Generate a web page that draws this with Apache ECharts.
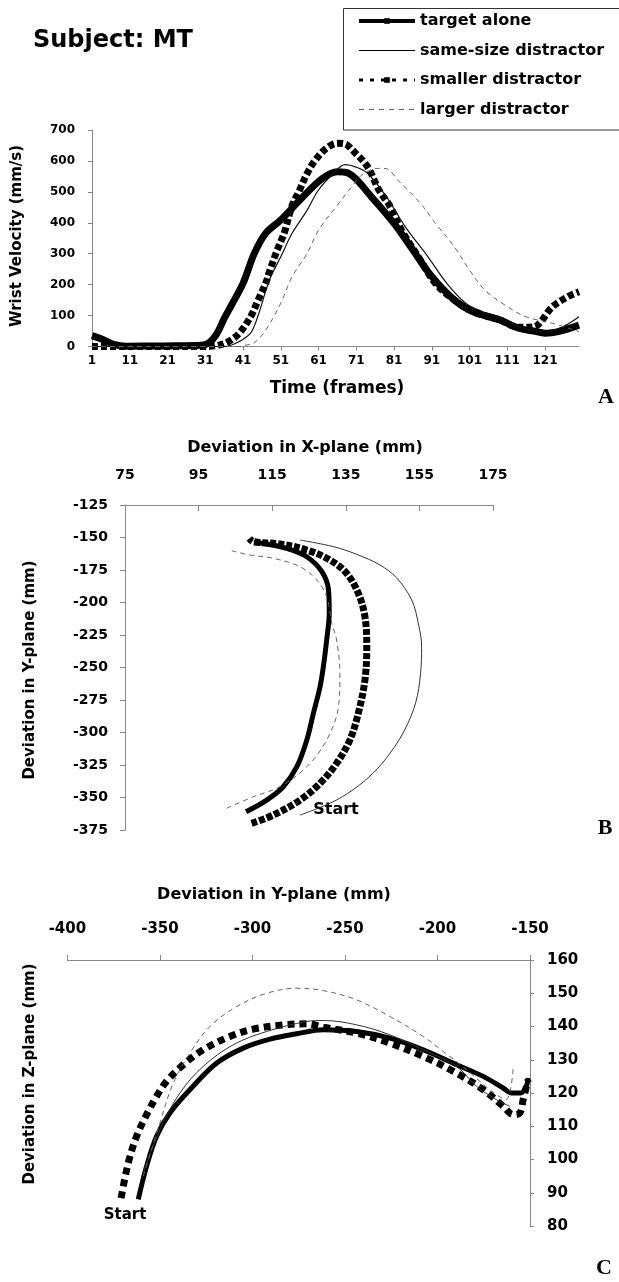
<!DOCTYPE html>
<html>
<head>
<meta charset="utf-8">
<title>Subject: MT</title>
<script src="https://cdn.jsdelivr.net/npm/echarts@6/dist/echarts.min.js"></script>
<style>
  html, body { margin: 0; padding: 0; background: #fff; }
  #chart { width: 619px; height: 1282px; }
</style>
</head>
<body>
<div id="chart"></div>
<script>
const names = ['target alone', 'same-size distractor', 'smaller distractor', 'larger distractor'];
const frameTicks = [1, 11, 21, 31, 41, 51, 61, 71, 81, 91, 101, 111, 121];
const xPlaneTicks = [75, 95, 115, 135, 155, 175];

// A: wrist velocity (mm/s) by frame, [frame, velocity]
const velTarget = [[1,35],[4,22],[7,6],[10,1],[20,2],[30,4],[32,12],[34,40],[36,90],[38,135],[41,204],[44,301],[47,366],[51,409],[56,473],[62,543],[66,565],[69,560],[75,484],[81,398],[86,312],[91,226],[97,150],[102,112],[109,86],[114,59],[118,50],[121,43],[125,50],[130,69]];
const velSame = [[1,0],[20,0],[36,0],[38,5],[40,16],[43,43],[45,100],[48,215],[51,290],[54,366],[58,441],[61,506],[65,560],[68,588],[71,580],[74,560],[79,484],[84,387],[90,290],[95,204],[100,140],[105,110],[110,86],[115,60],[120,48],[124,55],[127,72],[130,96]];
const velSmaller = [[1,0],[10,0],[20,0],[30,0],[34,3],[37,15],[40,43],[43,96],[45,150],[47,204],[48,242],[50,310],[51,339],[52,370],[54,455],[56,506],[58,560],[60,600],[63,640],[66,657],[68,655],[70,635],[74,581],[77,506],[80,452],[83,376],[88,279],[92,204],[97,150],[102,112],[109,86],[114,62],[118,64],[123,129],[127,161],[130,177]];
const velLarger = [[1,0],[30,0],[40,0],[42,5],[44,12],[47,53],[51,140],[54,226],[58,301],[61,376],[66,457],[70,520],[73,560],[77,576],[79,575],[82,538],[88,463],[92,398],[97,322],[101,247],[105,183],[111,129],[116,96],[123,75],[130,48]];

// B: [X-plane, Y-plane] in mm
const xyTarget = [[107.9,-361],[113.5,-352],[118,-341.7],[121.7,-326.3],[124.4,-305.8],[126.2,-285.2],[128,-264.8],[128.9,-249.4],[129.8,-228.8],[130.5,-208.3],[130.3,-190.4],[128.5,-176.3],[124.4,-164.8],[118.9,-158.3],[112.6,-154.5],[110,-154]];
const xySame = [[122.6,-363.5],[131,-354],[137,-344],[142.5,-331],[147,-316],[151,-298],[154,-277],[155.3,-255],[155.6,-234],[154.7,-216],[152.9,-198],[148.8,-181],[144.3,-171.2],[138,-163],[131.6,-157],[122.6,-152]];
const xySmaller = [[109.4,-369.9],[115.3,-363.5],[122.6,-351.9],[128,-339.1],[132.5,-323.7],[136.1,-305.8],[138.4,-285.2],[140.2,-259.6],[140.7,-234],[140.2,-210.9],[138.4,-192.9],[135.2,-177.5],[130.7,-167.3],[124.4,-159.6],[117.1,-155],[109.9,-153.2],[108.8,-150.6]];
const xyLarger = [[102.6,-358.3],[109.9,-349.4],[117.1,-341.7],[124.4,-326.3],[129.8,-305.8],[133,-280.2],[133.4,-254.5],[132.5,-228.8],[131.2,-216],[129.8,-195.5],[127.1,-182.7],[122.6,-172.5],[115.3,-166],[109,-163.5],[104,-160.2]];

// C: [Y-plane, Z-plane] in mm
const yzTarget = [[-361.7,88],[-357.2,98],[-351.8,107],[-344.6,114],[-333.8,121],[-319.3,129],[-305,133.5],[-290.5,136.2],[-276.1,137.8],[-261.7,139],[-243.7,138.5],[-225.7,136.5],[-207.7,133],[-189.7,128.5],[-175.3,125],[-164.5,121.5],[-160,120],[-155,120],[-152,122],[-151,124.5]];
const yzSame = [[-359,96],[-350,109],[-339.2,120],[-326.6,128],[-310.4,134.5],[-292.3,138.5],[-270.7,141.5],[-261.7,141.8],[-243.7,140.5],[-225.7,137.5],[-207.7,133],[-189.7,128],[-178.9,122],[-168.1,118],[-160.9,116]];
const yzSmaller = [[-371,88.4],[-367.1,99],[-362.6,107],[-357.2,113.5],[-351.8,119],[-346.4,123.5],[-337.4,128.5],[-326.6,133],[-312.2,137],[-299.6,139.2],[-283.4,140.5],[-270.7,140.8],[-261.7,139.8],[-243.7,138],[-225.7,135],[-207.7,131],[-189.7,126],[-175.3,121],[-164.5,116],[-159.1,113.5],[-155.5,114],[-153.7,118],[-151,124]];
const yzLarger = [[-359,95],[-350,111],[-342.8,123],[-333.8,132],[-323,140],[-308.5,146],[-292.3,150],[-276.1,151.5],[-261.7,150.8],[-243.7,148],[-225.7,143],[-207.7,137],[-196.9,132.5],[-184.3,127],[-171.7,121],[-163,118],[-159.1,127.5]];

const FONT = 'DejaVu Sans';
const axisGray = '#888';

const mychart = echarts.init(document.getElementById('chart'), null, { renderer: 'canvas' });

const labelStyle = (size, margin) => ({
    color: '#000', fontFamily: FONT, fontWeight: 'bold', fontSize: size, margin: margin
});

const makeLine = (name, data, idx, width, type, color, z) => ({
    name: name,
    type: 'line',
    xAxisIndex: idx,
    yAxisIndex: idx,
    data: data,
    smooth: 0.35,
    symbol: (name === 'target alone' || name === 'smaller distractor') ? 'rect' : 'none',
    symbolSize: 7,
    showSymbol: false,
    lineStyle: { color: color, width: width, type: type },
    itemStyle: { color: color },
    z: z,
    animation: false
});

const txt = (text, x, y, size, opts) => Object.assign({
    type: 'text', x: x, y: y, silent: true,
    style: {
        text: text, fill: '#000', fontFamily: FONT, fontWeight: 'bold', fontSize: size,
        align: 'center', verticalAlign: 'middle'
    }
}, opts || {});

const serif = (text, x, y) => ({
    type: 'text', x: x, y: y, silent: true,
    style: { text: text, fill: '#000', fontFamily: 'Liberation Serif', fontWeight: 'bold', fontSize: 22, align: 'center', verticalAlign: 'middle' }
});

const options = {
    backgroundColor: '#fff',
    animation: false,
    grid: [
        { left: 92, top: 130, width: 487, height: 216.5, outerBoundsMode: 'none' },
        { left: 125, top: 505, width: 368, height: 325, outerBoundsMode: 'none' },
        { left: 67.4, top: 960, width: 462.6, height: 266, outerBoundsMode: 'none' }
    ],
    xAxis: [
        {
            gridIndex: 0, type: 'value', min: 1, max: 130,
            axisLine: { lineStyle: { color: axisGray } },
            axisTick: { length: 4, customValues: frameTicks, lineStyle: { color: axisGray } },
            axisLabel: Object.assign(labelStyle(12, 8), { customValues: frameTicks }),
            splitLine: { show: false }
        },
        {
            gridIndex: 1, type: 'value', position: 'top', min: 75, max: 175,
            axisLine: { lineStyle: { color: axisGray } },
            axisTick: { inside: true, length: 6, customValues: xPlaneTicks, lineStyle: { color: axisGray } },
            axisLabel: Object.assign(labelStyle(14, 23), { customValues: xPlaneTicks }),
            splitLine: { show: false }
        },
        {
            gridIndex: 2, type: 'value', position: 'top', min: -400, max: -150, interval: 50,
            axisLine: { lineStyle: { color: axisGray } },
            axisTick: { length: 5, lineStyle: { color: axisGray } },
            axisLabel: labelStyle(15, 23),
            splitLine: { show: false }
        }
    ],
    yAxis: [
        {
            gridIndex: 0, type: 'value', min: 0, max: 700, interval: 100,
            axisLine: { show: true, lineStyle: { color: axisGray } },
            axisTick: { show: true, length: 4, lineStyle: { color: axisGray } },
            axisLabel: labelStyle(12, 17),
            splitLine: { show: false }
        },
        {
            gridIndex: 1, type: 'value', min: -375, max: -125, interval: 25,
            axisLine: { show: true, lineStyle: { color: axisGray } },
            axisTick: { show: true, length: 5, lineStyle: { color: axisGray } },
            axisLabel: Object.assign(labelStyle(14, 17), { interval: 0 }),
            splitLine: { show: false }
        },
        {
            gridIndex: 2, type: 'value', position: 'right', min: 80, max: 160, interval: 10,
            axisLine: { show: true, lineStyle: { color: axisGray } },
            axisTick: { show: true, length: 4, lineStyle: { color: axisGray } },
            axisLabel: Object.assign(labelStyle(15, 17), { interval: 0 }),
            splitLine: { show: false }
        }
    ],
    legend: {
        orient: 'vertical', left: 357, top: 12, padding: 0,
        itemWidth: 56, itemHeight: 7, itemGap: 11.5, selectedMode: false,
        textStyle: { color: '#000', fontFamily: FONT, fontWeight: 'bold', fontSize: 16, lineHeight: 18 },
        data: [
            { name: names[0], lineStyle: { color: '#000', width: 4, type: 'solid' } },
            { name: names[1], lineStyle: { color: '#000', width: 1, type: 'solid' }, itemStyle: { opacity: 0 } },
            { name: names[2], lineStyle: { color: '#000', width: 3, type: [4, 7] } },
            { name: names[3], lineStyle: { color: '#666', width: 1, type: [5, 5] }, itemStyle: { opacity: 0 } }
        ]
    },
    graphic: [
        { type: 'rect', silent: true, shape: { x: 343.5, y: 8.5, width: 300, height: 121.5 },
          style: { fill: 'none', stroke: '#333', lineWidth: 1 } },
        { type: 'text', x: 33, y: 41, silent: true,
          style: { text: 'Subject: MT', fill: '#000', fontFamily: FONT, fontWeight: 'bold', fontSize: 24, align: 'left', verticalAlign: 'middle' } },
        txt('Wrist Velocity (mm/s)', 17, 236, 15, { rotation: Math.PI / 2 }),
        txt('Time (frames)', 337, 389, 17),
        serif('A', 606, 397),
        txt('Deviation in X-plane (mm)', 305, 448, 16),
        txt('Deviation in Y-plane (mm)', 30, 670, 15, { rotation: Math.PI / 2 }),
        txt('Start', 336, 810, 16),
        serif('B', 605, 828),
        txt('Deviation in Y-plane (mm)', 274, 895, 16),
        txt('Deviation in Z-plane (mm)', 30, 1074, 15, { rotation: Math.PI / 2 }),
        txt('Start', 125, 1215, 15),
        serif('C', 604, 1268)
    ],
    series: [
        makeLine(names[0], velTarget, 0, 7, 'solid', '#000', 2),
        makeLine(names[1], velSame, 0, 1.2, 'solid', '#111', 4),
        makeLine(names[2], velSmaller, 0, 7, [6, 3], '#000', 3),
        makeLine(names[3], velLarger, 0, 1, [5, 4], '#666', 4),

        makeLine(names[0], xyTarget, 1, 5, 'solid', '#000', 2),
        makeLine(names[1], xySame, 1, 1, 'solid', '#333', 4),
        makeLine(names[2], xySmaller, 1, 7, [6, 2], '#000', 3),
        makeLine(names[3], xyLarger, 1, 1, [5, 4], '#666', 4),

        makeLine(names[0], yzTarget, 2, 5, 'solid', '#000', 2),
        makeLine(names[1], yzSame, 2, 1, 'solid', '#333', 4),
        makeLine(names[2], yzSmaller, 2, 7, [7, 5], '#000', 3),
        makeLine(names[3], yzLarger, 2, 1, [5, 4], '#666', 4)
    ]
};

mychart.setOption(options);
</script>
</body>
</html>
